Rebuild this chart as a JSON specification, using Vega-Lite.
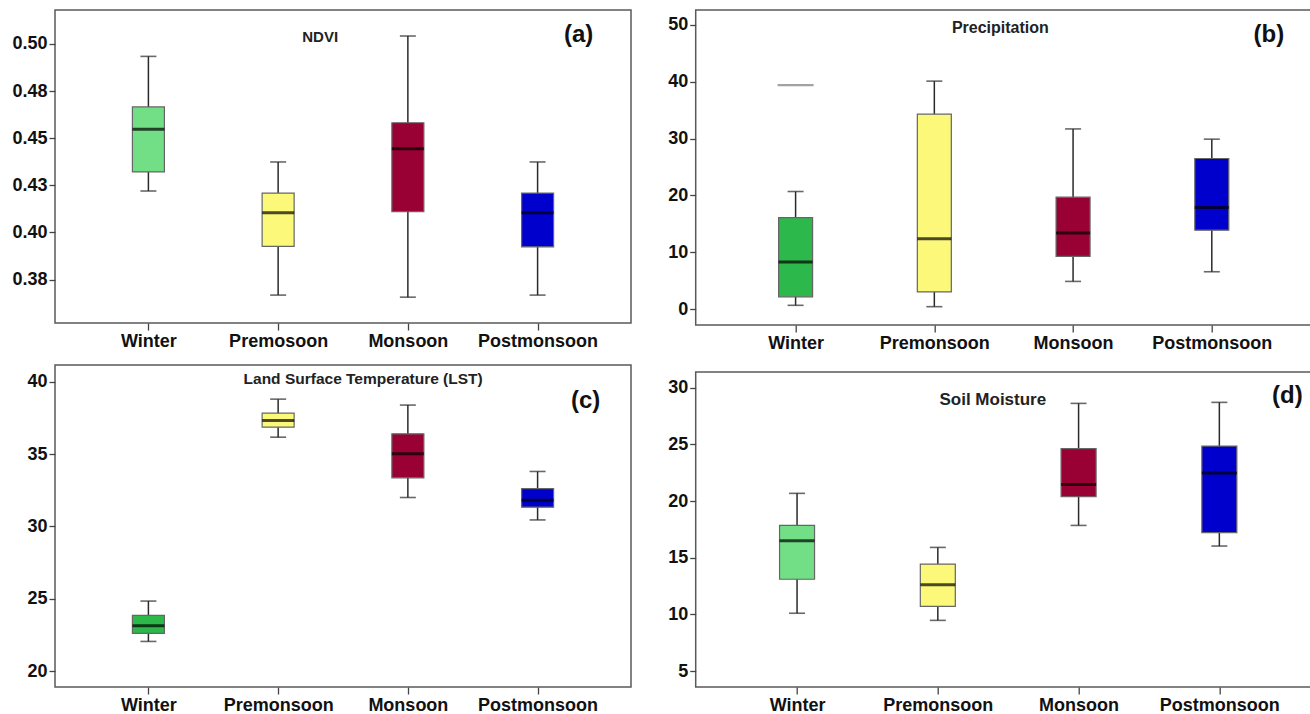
{
  "$schema": "https://vega.github.io/schema/vega-lite/v6.json",
  "background": "white",
  "padding": {"left": 11, "top": 9, "right": 0, "bottom": 0},
  "config": {
    "view": {"stroke": "#5a5a5a", "strokeWidth": 1.5},
    "axis": {"grid": false, "domain": false, "labelFont": "Liberation Sans", "labelFontWeight": "bold", "labelColor": "#111111", "tickColor": "#444444", "tickWidth": 1.3},
    "axisX": {"labelAngle": 0, "labelFontSize": 18, "tickSize": 7, "labelPadding": 2},
    "axisY": {"labelFontSize": 18, "tickSize": 6, "labelPadding": 2},
    "text": {"font": "Liberation Sans"}
  },
  "datasets": {
    "ndvi": [
      {"season": "Winter", "min": 0.422, "q1": 0.4321, "median": 0.4547, "q3": 0.4666, "max": 0.4934},
      {"season": "Premosoon", "min": 0.3668, "q1": 0.3926, "median": 0.4105, "q3": 0.4209, "max": 0.4374},
      {"season": "Monsoon", "min": 0.3657, "q1": 0.411, "median": 0.4444, "q3": 0.4582, "max": 0.5042},
      {"season": "Postmonsoon", "min": 0.3668, "q1": 0.3924, "median": 0.4105, "q3": 0.4209, "max": 0.4374}
    ],
    "prec": [
      {"season": "Winter", "min": 0.7, "q1": 2.2, "median": 8.3, "q3": 16.1, "max": 20.7},
      {"season": "Premonsoon", "min": 0.46, "q1": 3.05, "median": 12.4, "q3": 34.3, "max": 40.1},
      {"season": "Monsoon", "min": 4.9, "q1": 9.3, "median": 13.4, "q3": 19.7, "max": 31.7},
      {"season": "Postmonsoon", "min": 6.6, "q1": 13.9, "median": 17.9, "q3": 26.5, "max": 29.9}
    ],
    "lst": [
      {"season": "Winter", "min": 22.05, "q1": 22.61, "median": 23.14, "q3": 23.85, "max": 24.84},
      {"season": "Premonsoon", "min": 36.17, "q1": 36.86, "median": 37.32, "q3": 37.83, "max": 38.8},
      {"season": "Monsoon", "min": 32.0, "q1": 33.36, "median": 35.02, "q3": 36.4, "max": 38.39},
      {"season": "Postmonsoon", "min": 30.45, "q1": 31.33, "median": 31.81, "q3": 32.62, "max": 33.8}
    ],
    "sm": [
      {"season": "Winter", "min": 10.1, "q1": 13.1, "median": 16.5, "q3": 17.85, "max": 20.68},
      {"season": "Premonsoon", "min": 9.47, "q1": 10.71, "median": 12.62, "q3": 14.44, "max": 15.91},
      {"season": "Monsoon", "min": 17.85, "q1": 20.38, "median": 21.47, "q3": 24.62, "max": 28.62},
      {"season": "Postmonsoon", "min": 16.03, "q1": 17.21, "median": 22.47, "q3": 24.85, "max": 28.71}
    ]
  },
  "spacing": 22.7,
  "resolve": {"scale": {"color": "independent"}},
  "hconcat": [
    {
      "spacing": 13,
      "resolve": {"scale": {"color": "independent"}},
      "vconcat": [
        {
          "width": 576, "height": 313,
          "data": {"name": "ndvi"},
          "encoding": {
            "x": {"field": "season", "type": "nominal", "title": null, "scale": {"type": "point", "padding": 0.72, "domain": ["Winter", "Premosoon", "Monsoon", "Postmonsoon"]}}
          },
          "layer": [
            {"mark": {"type": "rule", "color": "#2a2a2a", "strokeWidth": 1.5},
             "encoding": {"y": {"field": "min", "type": "quantitative", "title": null, "scale": {"domain": [0.352, 0.518], "nice": false, "zero": false}, "axis": {"values": [0.375, 0.4, 0.425, 0.45, 0.475, 0.5], "labelExpr": "format(datum.value + 0.001, '.2f')", "minExtent": 43, "maxExtent": 43}}, "y2": {"field": "max"}}},
            {"mark": {"type": "tick", "color": "#2a2a2a", "size": 16, "thickness": 1.6}, "encoding": {"y": {"field": "min", "type": "quantitative", "title": null}}},
            {"mark": {"type": "tick", "color": "#2a2a2a", "size": 16, "thickness": 1.6}, "encoding": {"y": {"field": "max", "type": "quantitative", "title": null}}},
            {"mark": {"type": "bar", "width": 32, "stroke": "#666666", "strokeWidth": 1.2, "opacity": 1},
             "encoding": {"y": {"field": "q1", "type": "quantitative", "title": null}, "y2": {"field": "q3"},
               "color": {"field": "season", "type": "nominal", "legend": null, "scale": {"domain": ["Winter", "Premosoon", "Monsoon", "Postmonsoon"], "range": ["#72DE86", "#FBF87A", "#990033", "#0000CC"]}}}},
            {"mark": {"type": "tick", "color": "#000000", "size": 32, "thickness": 3}, "encoding": {"y": {"field": "median", "type": "quantitative", "title": null}}},
            {"data": {"values": [{"season": "Premosoon", "y": 0.5039, "label": "NDVI"}]},
             "mark": {"type": "text", "fontSize": 15, "fontWeight": "bold", "color": "#222222", "dx": 42},
             "encoding": {"y": {"field": "y", "type": "quantitative", "title": null}, "text": {"field": "label"}}},
            {"data": {"values": [{"season": "Postmonsoon", "y": 0.5049, "label": "(a)"}]},
             "mark": {"type": "text", "fontSize": 24, "fontWeight": "bold", "color": "#111111", "dx": 41},
             "encoding": {"y": {"field": "y", "type": "quantitative", "title": null}, "text": {"field": "label"}}}
          ]
        },
        {
          "width": 576, "height": 322,
          "data": {"name": "lst"},
          "encoding": {
            "x": {"field": "season", "type": "nominal", "title": null, "scale": {"type": "point", "padding": 0.72, "domain": ["Winter", "Premonsoon", "Monsoon", "Postmonsoon"]}}
          },
          "layer": [
            {"mark": {"type": "rule", "color": "#2a2a2a", "strokeWidth": 1.5},
             "encoding": {"y": {"field": "min", "type": "quantitative", "title": null, "scale": {"domain": [18.9, 41.16], "nice": false, "zero": false}, "axis": {"values": [20, 25, 30, 35, 40], "minExtent": 43, "maxExtent": 43}}, "y2": {"field": "max"}}},
            {"mark": {"type": "tick", "color": "#2a2a2a", "size": 16, "thickness": 1.6}, "encoding": {"y": {"field": "min", "type": "quantitative", "title": null}}},
            {"mark": {"type": "tick", "color": "#2a2a2a", "size": 16, "thickness": 1.6}, "encoding": {"y": {"field": "max", "type": "quantitative", "title": null}}},
            {"mark": {"type": "bar", "width": 32, "stroke": "#666666", "strokeWidth": 1.2, "opacity": 1},
             "encoding": {"y": {"field": "q1", "type": "quantitative", "title": null}, "y2": {"field": "q3"},
               "color": {"field": "season", "type": "nominal", "legend": null, "scale": {"domain": ["Winter", "Premonsoon", "Monsoon", "Postmonsoon"], "range": ["#2DB84B", "#FBF87A", "#990033", "#0000CC"]}}}},
            {"mark": {"type": "tick", "color": "#000000", "size": 32, "thickness": 3}, "encoding": {"y": {"field": "median", "type": "quantitative", "title": null}}},
            {"data": {"values": [{"season": "Premonsoon", "y": 40.21, "label": "Land Surface Temperature (LST)"}]},
             "mark": {"type": "text", "fontSize": 15.5, "fontWeight": "bold", "color": "#222222", "dx": 85},
             "encoding": {"y": {"field": "y", "type": "quantitative", "title": null}, "text": {"field": "label"}}},
            {"data": {"values": [{"season": "Postmonsoon", "y": 38.66, "label": "(c)"}]},
             "mark": {"type": "text", "fontSize": 24, "fontWeight": "bold", "color": "#111111", "dx": 48},
             "encoding": {"y": {"field": "y", "type": "quantitative", "title": null}, "text": {"field": "label"}}}
          ]
        }
      ]
    },
    {
      "spacing": 18,
      "resolve": {"scale": {"color": "independent"}},
      "vconcat": [
        {
          "width": 616, "height": 315,
          "data": {"name": "prec"},
          "encoding": {
            "x": {"field": "season", "type": "nominal", "title": null, "scale": {"type": "point", "padding": 0.72, "domain": ["Winter", "Premonsoon", "Monsoon", "Postmonsoon"]}}
          },
          "layer": [
            {"mark": {"type": "rule", "color": "#2a2a2a", "strokeWidth": 1.5},
             "encoding": {"y": {"field": "min", "type": "quantitative", "title": null, "scale": {"domain": [-2.76, 52.6], "nice": false, "zero": false}, "axis": {"values": [0, 10, 20, 30, 40, 50], "minExtent": 40, "maxExtent": 40}}, "y2": {"field": "max"}}},
            {"mark": {"type": "tick", "color": "#2a2a2a", "size": 16, "thickness": 1.6}, "encoding": {"y": {"field": "min", "type": "quantitative", "title": null}}},
            {"mark": {"type": "tick", "color": "#2a2a2a", "size": 16, "thickness": 1.6}, "encoding": {"y": {"field": "max", "type": "quantitative", "title": null}}},
            {"mark": {"type": "bar", "width": 34, "stroke": "#666666", "strokeWidth": 1.2, "opacity": 1},
             "encoding": {"y": {"field": "q1", "type": "quantitative", "title": null}, "y2": {"field": "q3"},
               "color": {"field": "season", "type": "nominal", "legend": null, "scale": {"domain": ["Winter", "Premonsoon", "Monsoon", "Postmonsoon"], "range": ["#2DB84B", "#FBF87A", "#990033", "#0000CC"]}}}},
            {"mark": {"type": "tick", "color": "#000000", "size": 34, "thickness": 3}, "encoding": {"y": {"field": "median", "type": "quantitative", "title": null}}},
            {"data": {"values": [{"season": "Winter", "value": 39.4}]},
             "mark": {"type": "tick", "color": "#7a7a7a", "size": 36, "thickness": 2.2},
             "encoding": {"y": {"field": "value", "type": "quantitative", "title": null}}},
            {"data": {"values": [{"season": "Premonsoon", "y": 49.5, "label": "Precipitation"}]},
             "mark": {"type": "text", "fontSize": 16, "fontWeight": "bold", "color": "#222222", "dx": 66},
             "encoding": {"y": {"field": "y", "type": "quantitative", "title": null}, "text": {"field": "label"}}},
            {"data": {"values": [{"season": "Postmonsoon", "y": 48.2, "label": "(b)"}]},
             "mark": {"type": "text", "fontSize": 24, "fontWeight": "bold", "color": "#111111", "dx": 57},
             "encoding": {"y": {"field": "y", "type": "quantitative", "title": null}, "text": {"field": "label"}}}
          ]
        },
        {
          "width": 625, "height": 315,
          "data": {"name": "sm"},
          "encoding": {
            "x": {"field": "season", "type": "nominal", "title": null, "scale": {"type": "point", "padding": 0.72, "domain": ["Winter", "Premonsoon", "Monsoon", "Postmonsoon"]}}
          },
          "layer": [
            {"mark": {"type": "rule", "color": "#2a2a2a", "strokeWidth": 1.5},
             "encoding": {"y": {"field": "min", "type": "quantitative", "title": null, "scale": {"domain": [3.59, 31.39], "nice": false, "zero": false}, "axis": {"values": [5, 10, 15, 20, 25, 30], "minExtent": 28, "maxExtent": 28}}, "y2": {"field": "max"}}},
            {"mark": {"type": "tick", "color": "#2a2a2a", "size": 16, "thickness": 1.6}, "encoding": {"y": {"field": "min", "type": "quantitative", "title": null}}},
            {"mark": {"type": "tick", "color": "#2a2a2a", "size": 16, "thickness": 1.6}, "encoding": {"y": {"field": "max", "type": "quantitative", "title": null}}},
            {"mark": {"type": "bar", "width": 35, "stroke": "#666666", "strokeWidth": 1.2, "opacity": 1},
             "encoding": {"y": {"field": "q1", "type": "quantitative", "title": null}, "y2": {"field": "q3"},
               "color": {"field": "season", "type": "nominal", "legend": null, "scale": {"domain": ["Winter", "Premonsoon", "Monsoon", "Postmonsoon"], "range": ["#72DE86", "#FBF87A", "#990033", "#0000CC"]}}}},
            {"mark": {"type": "tick", "color": "#000000", "size": 35, "thickness": 3}, "encoding": {"y": {"field": "median", "type": "quantitative", "title": null}}},
            {"data": {"values": [{"season": "Premonsoon", "y": 28.89, "label": "Soil Moisture"}]},
             "mark": {"type": "text", "fontSize": 17, "fontWeight": "bold", "color": "#222222", "dx": 55},
             "encoding": {"y": {"field": "y", "type": "quantitative", "title": null}, "text": {"field": "label"}}},
            {"data": {"values": [{"season": "Postmonsoon", "y": 29.29, "label": "(d)"}]},
             "mark": {"type": "text", "fontSize": 24, "fontWeight": "bold", "color": "#111111", "dx": 68},
             "encoding": {"y": {"field": "y", "type": "quantitative", "title": null}, "text": {"field": "label"}}}
          ]
        }
      ]
    }
  ]
}
